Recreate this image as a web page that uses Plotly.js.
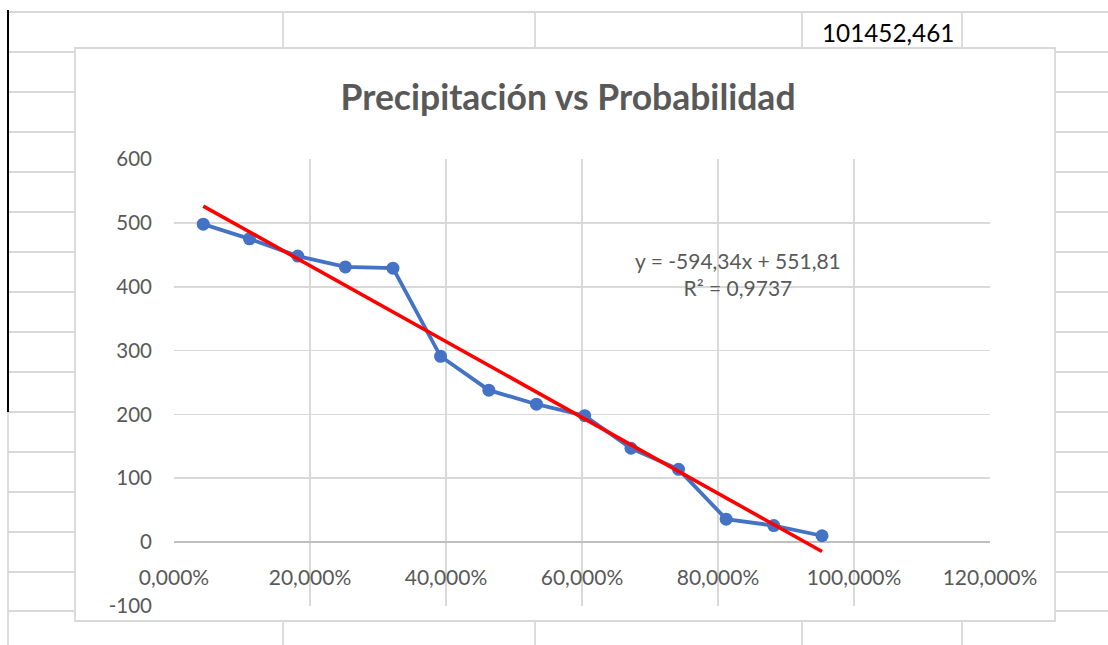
<!DOCTYPE html>
<html>
<head>
<meta charset="utf-8">
<script src="https://cdn.plot.ly/plotly-3.0.1.min.js"></script>
<style>html,body{margin:0;padding:0;background:#fff;}#chart{width:1108px;height:645px;}</style>
</head>
<body>
<div id="chart"></div>
<script>
// ---- data ----
const probabilidad = [0.043, 0.111, 0.182, 0.252, 0.322, 0.392, 0.463, 0.533, 0.604, 0.672, 0.742, 0.812, 0.882, 0.953];
const precipitacion = [498, 475, 448, 431, 429, 291, 238, 216, 198, 147, 114, 36, 26, 10];
const trendSlope = -594.34;
const trendIntercept = 551.81;
const equationText = "y = -594,34x + 551,81<br>R² = 0,9737";
const titleText = "Precipitación vs Probabilidad";
const cellText = "101452,461";
const yTickVals = [-100, 0, 100, 200, 300, 400, 500, 600];
const yTickText = ["-100", "0", "100", "200", "300", "400", "500", "600"];
const xTickVals = [0, 0.2, 0.4, 0.6, 0.8, 1.0, 1.2];
const xTickText = ["0,000%", "20,000%", "40,000%", "60,000%", "80,000%", "100,000%", "120,000%"];

// ---- layout geometry ----
const W = 1108, H = 645;
const L = 174, R = 990, T = 159, B = 606;
const px = x => (x - L) / (R - L);
const py = y => (B - y) / (B - T);
const FONT = "Lato, 'Open Sans', sans-serif";
const GRID = "#d9d9d9";

const shapes = [];
// spreadsheet rows
const rows = [12, 52, 92, 132, 172, 212, 252, 292, 332, 372, 412, 452, 492, 532, 572, 611];
rows.forEach(r => shapes.push({type:'line', xref:'paper', yref:'paper', x0:px(8), x1:px(1108), y0:py(r), y1:py(r), line:{color:GRID, width:1.8}, layer:'below'}));
// spreadsheet columns
[283, 535, 802, 962].forEach(c => shapes.push({type:'line', xref:'paper', yref:'paper', x0:px(c), x1:px(c), y0:py(12), y1:py(645), line:{color:GRID, width:1.8}, layer:'below'}));
shapes.push({type:'line', xref:'paper', yref:'paper', x0:px(8), x1:px(8), y0:py(412), y1:py(645), line:{color:GRID, width:1.8}, layer:'below'});
shapes.push({type:'line', xref:'paper', yref:'paper', x0:px(8), x1:px(8), y0:py(10), y1:py(412), line:{color:'#000', width:2}, layer:'below'});
// chart area
shapes.push({type:'rect', xref:'paper', yref:'paper', x0:px(75), x1:px(1055), y0:py(48), y1:py(621), fillcolor:'#ffffff', line:{color:GRID, width:1.8}, layer:'below'});

const xTrend = [Math.min(...probabilidad), Math.max(...probabilidad)];
const yTrend = xTrend.map(x => trendSlope * x + trendIntercept);

const data = [
  {x: probabilidad, y: precipitacion, type:'scatter', mode:'lines+markers',
   line:{color:'#4472C4', width:3.8}, marker:{color:'#4472C4', size:13}, hoverinfo:'skip'},
  {x: xTrend, y: yTrend, type:'scatter', mode:'lines', line:{color:'#FF0000', width:3.6}, hoverinfo:'skip'}
];

const layout = {
  width: W, height: H,
  margin: {l: L, r: W - R, t: T, b: H - B, pad: 0},
  paper_bgcolor: '#ffffff', plot_bgcolor: 'rgba(0,0,0,0)',
  showlegend: false,
  separators: ',.',
  font: {family: FONT, color: '#595959', size: 20},
  title: {text: titleText, font:{family: FONT, size: 35.5, color:'#595959', weight: 700}, xref:'container', yref:'container', x: 568 / W, xanchor:'center', y: 1 - 98/H, yanchor:'middle'},
  xaxis: {range:[0, 1.2], tickvals: xTickVals, ticktext: xTickText, showgrid:true, gridcolor: GRID, gridwidth:1.8,
          zeroline:false, showline:false, anchor:'free', position: py(542), ticks:'', ticklabelstandoff: 21,
          tickfont:{size:21, color:'#595959'}, fixedrange:true},
  yaxis: {range:[-100, 600], tickvals: yTickVals, ticktext: yTickText, showgrid:true, gridcolor: GRID, gridwidth:1.8,
          zeroline:true, zerolinecolor:'#bfbfbf', zerolinewidth:2, showline:false, ticks:'', ticklabelstandoff: 21,
          tickfont:{size:20.5, color:'#595959'}, domain:[0,1], fixedrange:true},
  shapes: shapes,
  annotations: [
    {xref:'paper', yref:'paper', x: px(738), y: py(274), text: equationText, showarrow:false, align:'center',
     xanchor:'center', yanchor:'middle', font:{family: FONT, size:21, color:'#595959'}},
    {xref:'paper', yref:'paper', x: px(956), y: py(33), text: cellText, showarrow:false,
     xanchor:'right', yanchor:'middle', font:{family: FONT, size:24.3, color:'#000000'}}
  ]
};

Plotly.newPlot('chart', data, layout, {displayModeBar:false, staticPlot:true});
</script>
</body>
</html>
